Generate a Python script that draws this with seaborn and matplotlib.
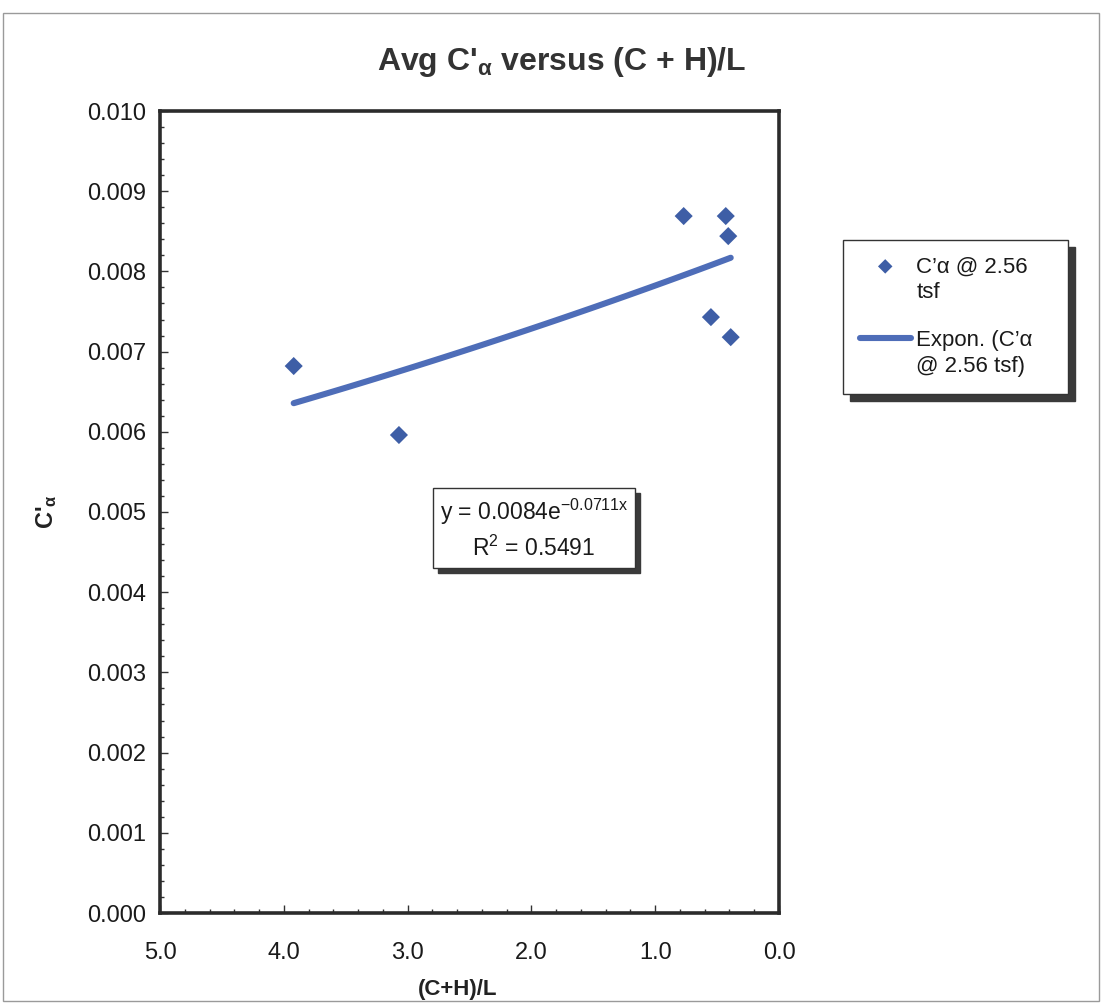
import numpy as np
import pandas as pd
import matplotlib
matplotlib.use("Agg")
import matplotlib.pyplot as plt
import matplotlib.transforms as mtransforms
from matplotlib.patches import Rectangle
from matplotlib.ticker import MultipleLocator, FormatStrFormatter
import seaborn as sns

# Measured secondary compression index vs (C+H)/L
ratio = [3.92, 3.07, 0.77, 0.43, 0.41, 0.55, 0.39]
c_alpha = [0.00682, 0.00596, 0.00869, 0.00869, 0.00844, 0.00743, 0.00718]

# Exponential trend y = a * exp(b * x)
fit_a = 0.0084
fit_b = -0.0711
r_squared = 0.5491

x_ticks = [5.0, 4.0, 3.0, 2.0, 1.0, 0.0]
y_ticks = [0.000, 0.001, 0.002, 0.003, 0.004, 0.005, 0.006, 0.007, 0.008, 0.009, 0.010]

point_label = "C\u2019\u03b1 @ 2.56\ntsf"
trend_label = "Expon. (C\u2019\u03b1\n@ 2.56 tsf)"

sns.set_theme(style="ticks")
plt.rcParams["font.family"] = ["Liberation Sans", "DejaVu Sans"]
plt.rcParams["mathtext.fontset"] = "custom"
plt.rcParams["mathtext.rm"] = "Liberation Sans"
plt.rcParams["mathtext.it"] = "Liberation Sans:italic"
plt.rcParams["mathtext.bf"] = "Liberation Sans:bold"

W, H = 1102, 1006
fig = plt.figure(figsize=(W / 100, H / 100), dpi=100)
fig.patch.set_facecolor("white")
ax = fig.add_axes([160 / W, 1 - 913 / H, (779 - 160) / W, (913 - 111) / H])

df = pd.DataFrame({"ratio": ratio, "c_alpha": c_alpha})
x_fit = np.linspace(min(ratio), max(ratio), 60)
trend = pd.DataFrame({"ratio": x_fit, "c_alpha": fit_a * np.exp(fit_b * x_fit)})

blue_pts = "#3E5EA6"
blue_line = "#4E6DB8"
shadow_col = "#3a3a3a"

sns.lineplot(data=trend, x="ratio", y="c_alpha", color=blue_line, linewidth=4.4,
             label=trend_label, ax=ax, zorder=2)
sns.scatterplot(data=df, x="ratio", y="c_alpha", marker="D", s=85, color=blue_pts,
                edgecolor="none", label=point_label, ax=ax, zorder=3)

ax.set_xlim(5.0, 0.0)
ax.set_ylim(0.0, 0.010)
ax.set_xticks(x_ticks)
ax.set_yticks(y_ticks)
ax.xaxis.set_major_formatter(FormatStrFormatter("%.1f"))
ax.yaxis.set_major_formatter(FormatStrFormatter("%.3f"))
ax.xaxis.set_minor_locator(MultipleLocator(0.2))
ax.yaxis.set_minor_locator(MultipleLocator(0.0002))
ax.tick_params(which="both", direction="in", color="#333333", width=1,
               top=False, right=False, labelcolor="#1a1a1a")
ax.tick_params(which="major", length=6, labelsize=17)
ax.tick_params(axis="x", which="major", pad=21)
ax.tick_params(axis="y", which="major", pad=10)
ax.tick_params(which="minor", length=3)
ax.set_xlabel("")
ax.set_ylabel("")
for sp in ax.spines.values():
    sp.set_visible(True)
    sp.set_linewidth(2.6)
    sp.set_color("#2b2b2b")

# Legend to the right of the plot, boxed with a drop shadow
handles, labels = ax.get_legend_handles_labels()
order = [labels.index(point_label), labels.index(trend_label)]
leg = ax.legend([handles[i] for i in order], [labels[i] for i in order],
                loc="upper left",
                bbox_to_anchor=(843 / W, 1 - 395 / H, 225 / W, 155 / H),
                bbox_transform=fig.transFigure, mode="expand", borderaxespad=0,
                fontsize=16, frameon=True, fancybox=False, framealpha=1,
                edgecolor="#333333", labelspacing=1.2, handlelength=2.3,
                handletextpad=0.25, borderpad=0.75, markerscale=0.8,
                shadow={"ox": 5, "oy": -5, "color": shadow_col, "alpha": 1})
leg.get_frame().set_linewidth(1.0)
for txt in leg.get_texts():
    txt.set_color("#1a1a1a")
    txt.set_linespacing(1.3)
# put each legend key level with the first line of its label
for col in leg._legend_handle_box.get_children():
    for item in col.get_children():
        item.align = "top"

# Trend equation box with drop shadow
eq_text = f"y = {fit_a}e$^{{\\mathrm{{{fit_b}x}}}}$\nR$^2$ = {r_squared}"
eq = ax.text(1.98, 0.00479, eq_text, ha="center", va="center",
             multialignment="center", fontsize=16.5, linespacing=1.45,
             color="#1a1a1a", zorder=5,
             bbox=dict(boxstyle="square,pad=0.3", fc="white", ec="#333333", lw=1))
fig.canvas.draw()
bb = eq.get_bbox_patch().get_window_extent()
ax.add_patch(Rectangle((bb.x0 + 5, bb.y0 - 5), bb.width, bb.height,
                       transform=mtransforms.IdentityTransform(),
                       facecolor=shadow_col, edgecolor=shadow_col, zorder=4))

# Titles and axis labels
fig.text(562 / W, 1 - 62 / H, "Avg C'$_{\\mathbf{\u03b1}}$ versus (C + H)/L",
         ha="center", va="center", fontsize=23, fontweight="bold", color="#333333")
fig.text(47 / W, 1 - 512 / H, "C'$_{\\mathbf{\u03b1}}$", rotation=90,
         ha="center", va="center", fontsize=17, fontweight="bold", color="#222222")
fig.text(458 / W, 1 - 990 / H, "(C+H)/L", ha="center", va="center",
         fontsize=16, fontweight="bold", color="#222222")

# Thin page border
fig.patches.append(Rectangle((3 / W, 1 - 1001 / H), 1096 / W, 988 / H,
                             transform=fig.transFigure, fill=False,
                             edgecolor="#9a9a9a", linewidth=1))

fig.savefig("out.png", dpi=100)
